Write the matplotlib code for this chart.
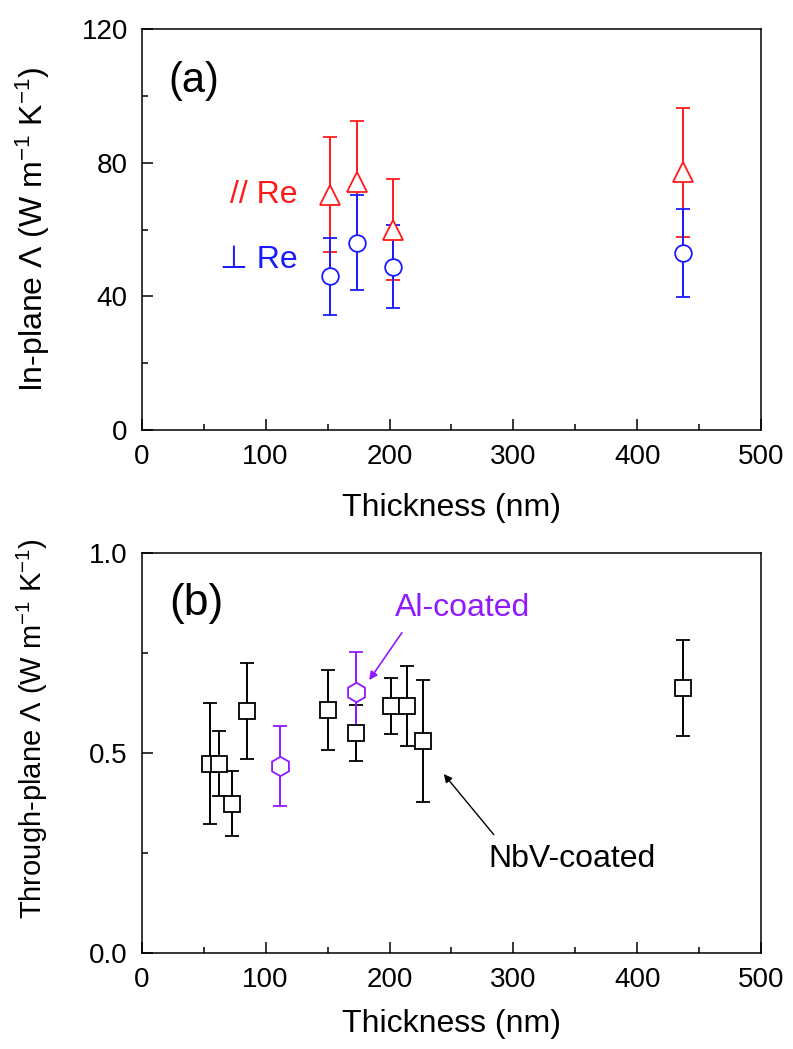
import matplotlib
matplotlib.use("Agg")
import matplotlib.pyplot as plt
from matplotlib.ticker import MultipleLocator, FormatStrFormatter

plt.rcParams['font.family'] = ['Liberation Sans', 'DejaVu Sans']
plt.rcParams['mathtext.fontset'] = 'custom'
plt.rcParams['mathtext.rm'] = 'Liberation Sans'
plt.rcParams['mathtext.it'] = 'Liberation Sans:italic'

# (a) in-plane, parallel / perpendicular to Re
t_par = [152, 174, 203, 437]
k_par = [70.4, 74.3, 60.0, 77.2]
e_par = [17.2, 18.2, 15.1, 19.3]

t_perp = [152, 174, 203, 437]
k_perp = [46.0, 56.0, 48.9, 53.0]
e_perp = [11.6, 14.2, 12.4, 13.2]

# (b) through-plane
t_nbv = [55, 62, 73, 85, 150, 173, 201, 214, 227, 437]
k_nbv = [0.474, 0.474, 0.374, 0.606, 0.608, 0.55, 0.617, 0.617, 0.53, 0.662]
e_nbv = [0.151, 0.081, 0.081, 0.12, 0.1, 0.07, 0.07, 0.1, 0.153, 0.12]

t_al = [112, 173]
k_al = [0.468, 0.652]
e_al = [0.1, 0.1]

red = '#ff1a1a'
blue = '#1a1aff'
purple = '#9019ff'

fig = plt.figure(figsize=(7.93, 10.49), dpi=100)
ax1 = fig.add_axes([0.1787, 0.590, 0.7813, 0.3824])
ax2 = fig.add_axes([0.1787, 0.0912, 0.7813, 0.3814])

eb = dict(ls='none', capsize=4.8, elinewidth=1.4, capthick=1.4, mfc='white', mew=1.3)
ax1.errorbar(t_par, k_par, yerr=e_par, marker='^', ms=15, color=red, mec=red, **eb)
ax1.errorbar(t_perp, k_perp, yerr=e_perp, marker='o', ms=12, color=blue, mec=blue, **eb)

ax1.text(126, 70.4, '// Re', color=red, fontsize=23, ha='right', va='center')
ax1.text(126, 51, '\u22a5 Re', color=blue, fontsize=23, ha='right', va='center')
ax1.text(0.043, 0.87, '(a)', transform=ax1.transAxes, fontsize=30, va='center')

ax1.set_xlim(0, 500)
ax1.set_ylim(0, 120)
ax1.xaxis.set_major_locator(MultipleLocator(100))
ax1.xaxis.set_minor_locator(MultipleLocator(50))
ax1.yaxis.set_major_locator(MultipleLocator(40))
ax1.yaxis.set_minor_locator(MultipleLocator(20))
ax1.set_xlabel('Thickness (nm)', fontsize=23)
ax1.set_ylabel(r'In-plane $\it{\Lambda}$ (W m$^{-1}$ K$^{-1}$)', fontsize=23)
ax1.xaxis.set_label_coords(0.5, -0.158)
ax1.yaxis.set_label_coords(-0.145, 0.5)

ax2.errorbar(t_nbv, k_nbv, yerr=e_nbv, marker='s', ms=11, color='black', mec='black', **eb)
ax2.errorbar(t_al, k_al, yerr=e_al, marker='h', ms=14, color=purple, mec=purple, **eb)

ax2.annotate('Al-coated', xy=(183.6, 0.683), xytext=(259, 0.863), color=purple,
             fontsize=23, ha='center', va='center',
             arrowprops=dict(arrowstyle='-|>', color=purple, lw=1.2, mutation_scale=12,
                             relpos=(0.1, 0.0), shrinkA=6, shrinkB=0))
ax2.annotate('NbV-coated', xy=(243.8, 0.448), xytext=(347, 0.236), color='black',
             fontsize=23, ha='center', va='center',
             arrowprops=dict(arrowstyle='-|>', color='black', lw=1.0, mutation_scale=12,
                             relpos=(0.08, 1.0), shrinkA=6, shrinkB=0))
ax2.text(0.045, 0.875, '(b)', transform=ax2.transAxes, fontsize=32, va='center')

ax2.set_xlim(0, 500)
ax2.set_ylim(0, 1.0)
ax2.xaxis.set_major_locator(MultipleLocator(100))
ax2.xaxis.set_minor_locator(MultipleLocator(50))
ax2.yaxis.set_major_locator(MultipleLocator(0.5))
ax2.yaxis.set_minor_locator(MultipleLocator(0.25))
ax2.yaxis.set_major_formatter(FormatStrFormatter('%.1f'))
ax2.set_xlabel('Thickness (nm)', fontsize=23)
ax2.set_ylabel(r'Through-plane $\it{\Lambda}$ (W m$^{-1}$ K$^{-1}$)', fontsize=21)
ax2.xaxis.set_label_coords(0.5, -0.14)
ax2.yaxis.set_label_coords(-0.148, 0.562)

for ax in (ax1, ax2):
    for s in ax.spines.values():
        s.set_linewidth(1.1)
    ax.tick_params(which='both', direction='in', top=False, right=False,
                   labelsize=20, width=1.1)
    ax.tick_params(which='major', length=8, pad=10)
    ax.tick_params(which='minor', length=4.5)

fig.savefig('out.png', dpi=100)
